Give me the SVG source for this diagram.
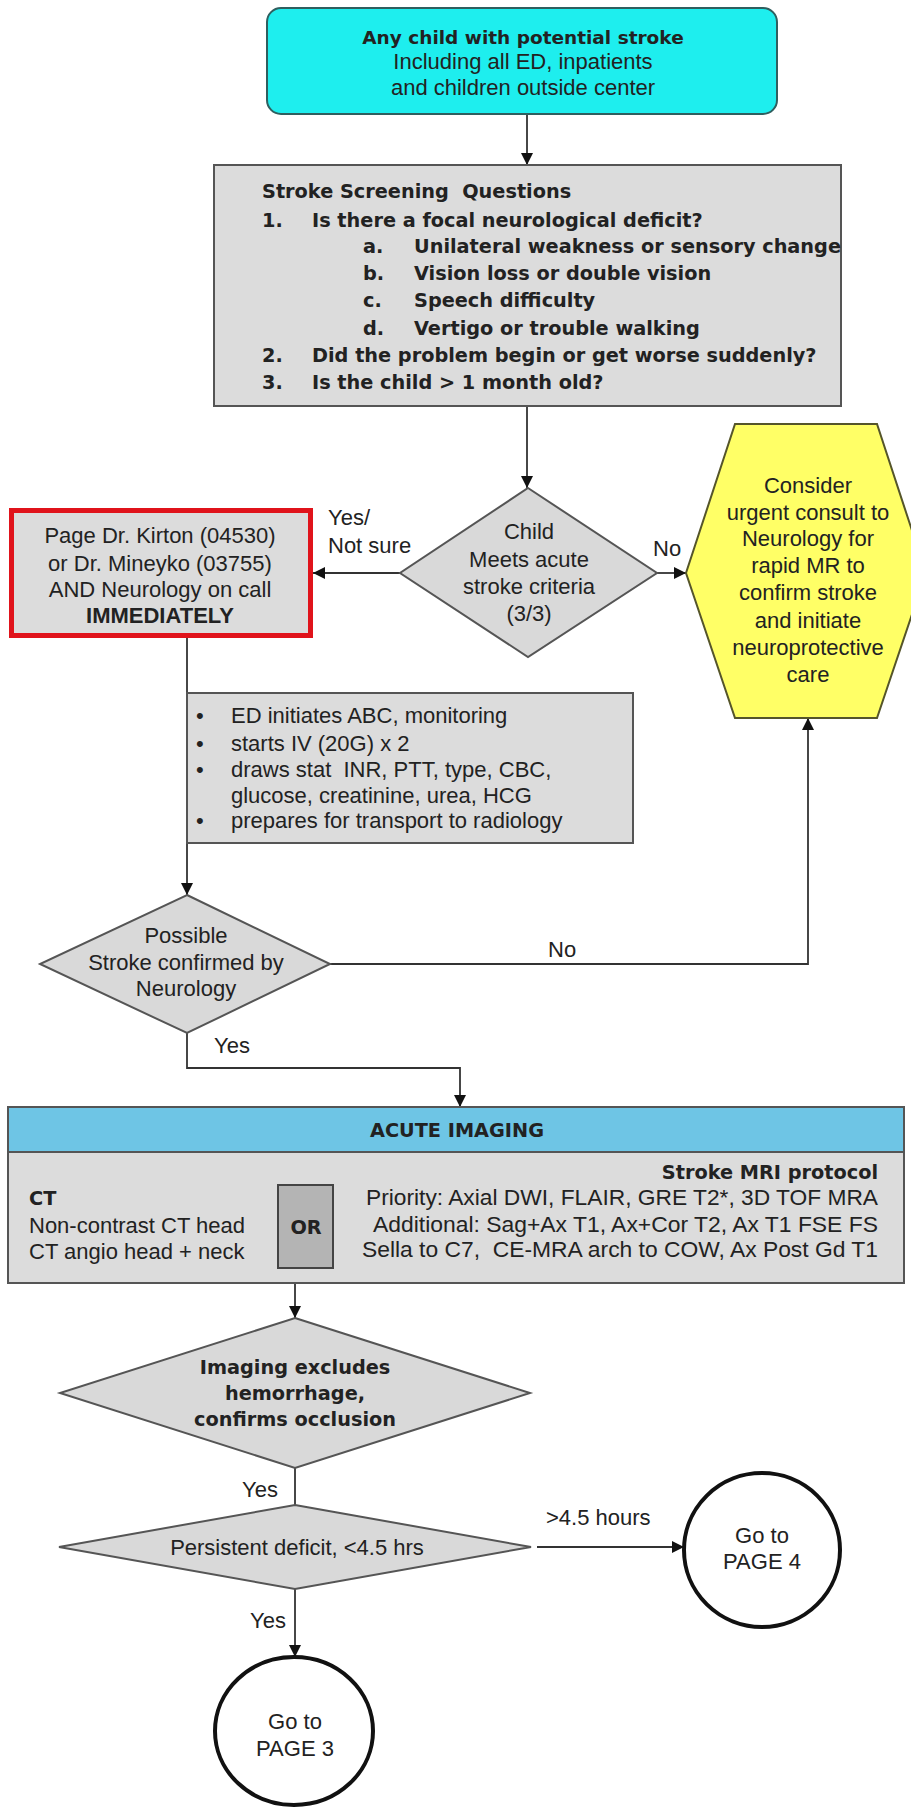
<svg xmlns="http://www.w3.org/2000/svg" width="911" height="1808" viewBox="0 0 911 1808">
<defs>
<marker id="arr" viewBox="0 0 12 12" refX="12" refY="6" markerWidth="12" markerHeight="12" markerUnits="userSpaceOnUse" orient="auto"><path d="M0,0 L12,6 L0,12 z" fill="#111"/></marker>
<style>
.r{font-family:"Liberation Sans",Arial,sans-serif;font-size:22px;fill:#222}
.b{font-family:"DejaVu Sans",Verdana,sans-serif;font-weight:bold;font-size:19.3px;fill:#222}
.ab{font-family:"Liberation Sans",Arial,sans-serif;font-weight:bold;font-size:22px;fill:#222}
.c{text-anchor:middle}
.e{text-anchor:end}
.ln{fill:none;stroke:#333;stroke-width:1.8}
.box{fill:#DCDCDC;stroke:#555;stroke-width:2}
.dia{fill:#D9D9D9;stroke:#555;stroke-width:2}
.term{fill:#fff;stroke:#111;stroke-width:4}
</style>
</defs>
<rect width="911" height="1808" fill="#fff"/>

<g id="connectors">
<path class="ln" d="M527,114 V165" marker-end="url(#arr)"/>
<path class="ln" d="M527,406 V488" marker-end="url(#arr)"/>
<path class="ln" d="M400,573 H313" marker-end="url(#arr)"/>
<path class="ln" d="M657,573 H686" marker-end="url(#arr)"/>
<path class="ln" d="M187,638 V895" marker-end="url(#arr)"/>
<path class="ln" d="M330,964 H808 V718" marker-end="url(#arr)"/>
<path class="ln" d="M187,1033 V1068 H460 V1107" marker-end="url(#arr)"/>
<path class="ln" d="M295,1283 V1318" marker-end="url(#arr)"/>
<path class="ln" d="M295,1468 V1505"/>
<path class="ln" d="M537,1547 H684" marker-end="url(#arr)"/>
<path class="ln" d="M295,1589 V1657" marker-end="url(#arr)"/>
<text class="r" x="328" y="525">Yes/</text>
<text class="r" x="328" y="553">Not sure</text>
<text class="r" x="653" y="556">No</text>
<text class="r" x="548" y="957">No</text>
<text class="r" x="214" y="1053">Yes</text>
<text class="r" x="242" y="1497">Yes</text>
<text class="r" x="546" y="1525">&gt;4.5 hours</text>
<text class="r" x="250" y="1628">Yes</text>
</g>

<g id="start">
<rect x="267" y="8" width="510" height="106" rx="14" fill="#1EEEEE" stroke="#2F5F5F" stroke-width="2"/>
<text class="b c" x="523" y="44" style="font-size:18.5px">Any child with potential stroke</text>
<text class="r c" x="523" y="69">Including all ED, inpatients</text>
<text class="r c" x="523" y="95">and children outside center</text>
</g>

<g id="screening">
<rect class="box" x="214" y="165" width="627" height="241"/>
<text class="b" x="262" y="198" xml:space="preserve">Stroke Screening  Questions</text>
<text class="b" x="262" y="227">1.</text><text class="b" x="312" y="227">Is there a focal neurological deficit?</text>
<text class="b" x="363" y="253">a.</text><text class="b" x="414" y="253">Unilateral weakness or sensory change</text>
<text class="b" x="363" y="280">b.</text><text class="b" x="414" y="280">Vision loss or double vision</text>
<text class="b" x="363" y="307">c.</text><text class="b" x="414" y="307">Speech difficulty</text>
<text class="b" x="363" y="335">d.</text><text class="b" x="414" y="335">Vertigo or trouble walking</text>
<text class="b" x="262" y="362">2.</text><text class="b" x="312" y="362">Did the problem begin or get worse suddenly?</text>
<text class="b" x="262" y="389">3.</text><text class="b" x="312" y="389">Is the child &gt; 1 month old?</text>
</g>

<g id="criteria">
<polygon class="dia" points="528,488 657,573 528,657 400,573"/>
<text class="r c" x="529" y="539">Child</text>
<text class="r c" x="529" y="567">Meets acute</text>
<text class="r c" x="529" y="594">stroke criteria</text>
<text class="r c" x="529" y="621">(3/3)</text>
</g>

<g id="page">
<rect x="11.5" y="510.5" width="299" height="125" fill="#DCDCDC" stroke="#E0131B" stroke-width="5"/>
<text class="r c" x="160" y="543">Page Dr. Kirton (04530)</text>
<text class="r c" x="160" y="571">or Dr. Mineyko (03755)</text>
<text class="r c" x="160" y="597">AND Neurology on call</text>
<text class="ab c" x="160" y="623">IMMEDIATELY</text>
</g>

<g id="consult">
<polygon points="735,424 877,424 926,573 877,718 735,718 686,573" fill="#FFFF66" stroke="#55552A" stroke-width="2"/>
<text class="r c" x="808" y="493">Consider</text>
<text class="r c" x="808" y="520">urgent consult to</text>
<text class="r c" x="808" y="546">Neurology for</text>
<text class="r c" x="808" y="573">rapid MR to</text>
<text class="r c" x="808" y="600">confirm stroke</text>
<text class="r c" x="808" y="628">and initiate</text>
<text class="r c" x="808" y="655">neuroprotective</text>
<text class="r c" x="808" y="682">care</text>
</g>

<g id="ed">
<rect class="box" x="187" y="693" width="446" height="150"/>
<text class="r" x="196" y="723">•</text><text class="r" x="231" y="723">ED initiates ABC, monitoring</text>
<text class="r" x="196" y="751">•</text><text class="r" x="231" y="751">starts IV (20G) x 2</text>
<text class="r" x="196" y="777">•</text><text class="r" x="231" y="777" xml:space="preserve">draws stat  INR, PTT, type, CBC,</text>
<text class="r" x="231" y="803">glucose, creatinine, urea, HCG</text>
<text class="r" x="196" y="828">•</text><text class="r" x="231" y="828">prepares for transport to radiology</text>
</g>

<g id="confirmed">
<polygon class="dia" points="187,895 330,964 187,1033 40,964"/>
<text class="r c" x="186" y="943">Possible</text>
<text class="r c" x="186" y="970">Stroke confirmed by</text>
<text class="r c" x="186" y="996">Neurology</text>
</g>

<g id="imaging">
<rect x="8" y="1107" width="896" height="176" fill="#DCDCDC" stroke="#555" stroke-width="2"/>
<rect x="8" y="1107" width="896" height="45" fill="#6EC5E5" stroke="#555" stroke-width="2"/>
<text class="b c" x="457" y="1137">ACUTE IMAGING</text>
<text class="b" x="29" y="1205">CT</text>
<text class="r" x="29" y="1233">Non-contrast CT head</text>
<text class="r" x="29" y="1259">CT angio head + neck</text>
<rect x="278" y="1185" width="55" height="83" fill="#B4B4B4" stroke="#444" stroke-width="2"/>
<text class="b c" x="306" y="1234">OR</text>
<text class="b e" x="878" y="1179">Stroke MRI protocol</text>
<text class="r e" x="878" y="1205" textLength="512" lengthAdjust="spacingAndGlyphs">Priority: Axial DWI, FLAIR, GRE T2*, 3D TOF MRA</text>
<text class="r e" x="878" y="1232" textLength="505" lengthAdjust="spacingAndGlyphs">Additional: Sag+Ax T1, Ax+Cor T2, Ax T1 FSE FS</text>
<text class="r e" x="878" y="1257" xml:space="preserve" textLength="516" lengthAdjust="spacingAndGlyphs">Sella to C7,  CE-MRA arch to COW, Ax Post Gd T1</text>
</g>

<g id="excludes">
<polygon class="dia" points="295,1318 530,1393 295,1468 60,1393"/>
<text class="b c" x="295" y="1374">Imaging excludes</text>
<text class="b c" x="295" y="1400">hemorrhage,</text>
<text class="b c" x="295" y="1426">confirms occlusion</text>
</g>

<g id="persistent">
<polygon class="dia" points="295,1505 531,1547 295,1589 59,1547"/>
<text class="r c" x="297" y="1555">Persistent deficit, &lt;4.5 hrs</text>
</g>

<g id="page4">
<ellipse class="term" cx="762" cy="1550" rx="78" ry="77"/>
<text class="r c" x="762" y="1543">Go to</text>
<text class="r c" x="762" y="1569">PAGE 4</text>
</g>

<g id="page3">
<ellipse class="term" cx="294" cy="1731" rx="79" ry="74"/>
<text class="r c" x="295" y="1729">Go to</text>
<text class="r c" x="295" y="1756">PAGE 3</text>
</g>
</svg>
